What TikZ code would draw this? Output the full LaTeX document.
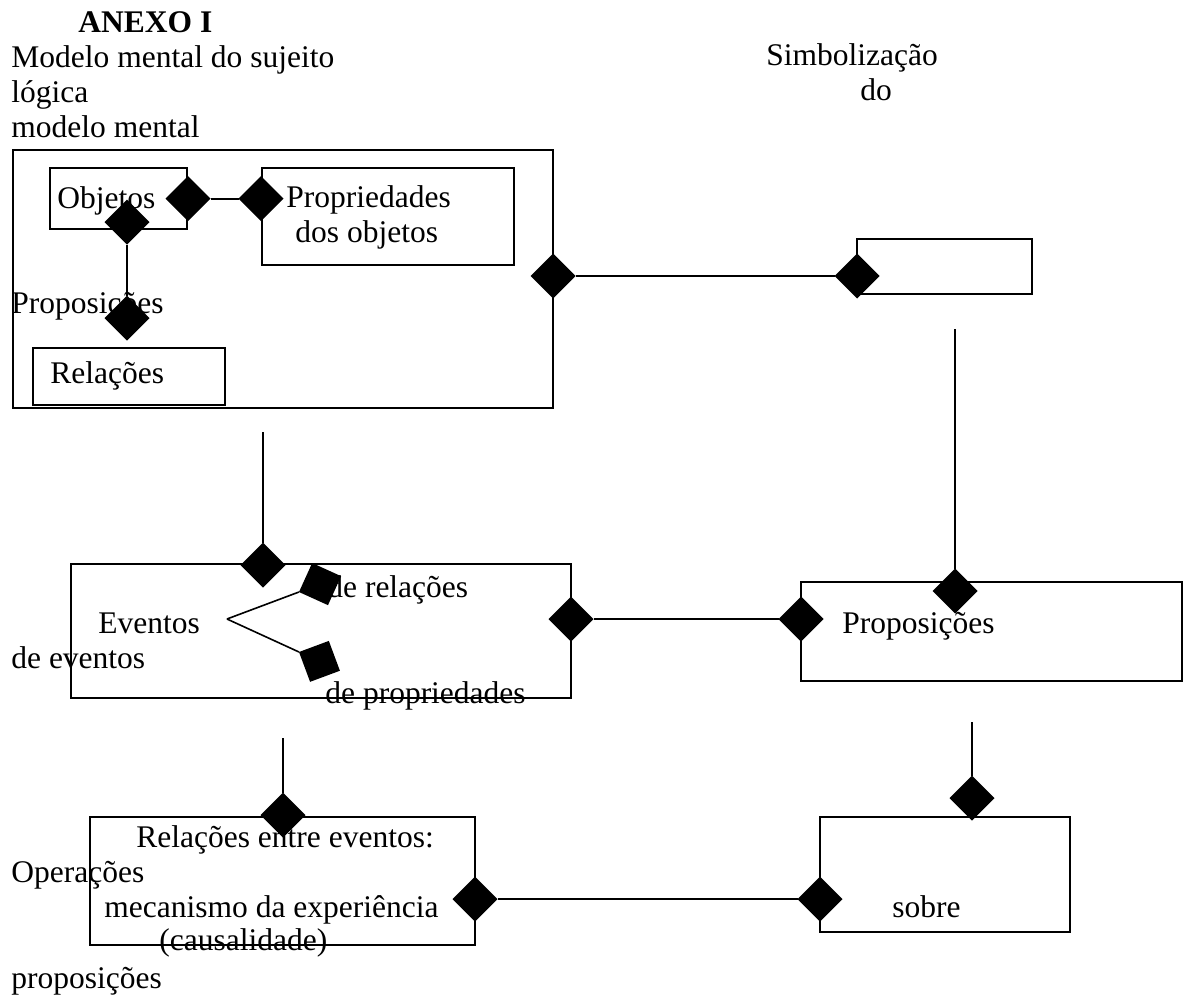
\documentclass[tikz,border=0pt]{standalone}
\usepackage{fontspec}
\setmainfont{Liberation Serif}
\usetikzlibrary{shapes.geometric, fit, calc}

\begin{document}
\begin{tikzpicture}[
    x=0.5pt, y=-0.5pt,
    box/.style={draw, line width=1pt, inner sep=0pt},
    dia/.style={diamond, fill=black, inner sep=0pt, outer sep=0pt,
                minimum width=22.5pt, minimum height=22.5pt},
    lbl/.style={anchor=base west, inner sep=0pt, font=\fontsize{15.75}{17.5}\selectfont},
    conn/.style={line width=1pt},
    thinconn/.style={line width=0.8pt},
  ]
  \useasboundingbox (0,0) rectangle (1184,996);
  \node[box, fit={(13,150) (553,408)}] (modelo) {};
  \node[box, fit={(50,168) (187,229)}] (objetos) {};
  \node[box, fit={(262,168) (514,265)}] (props) {};
  \node[box, fit={(33,348) (225,405)}] (relacoes) {};
  \node[box, fit={(857,239) (1032,294)}] (simb) {};
  \node[box, fit={(71,564) (571,698)}] (eventos) {};
  \node[box, fit={(801,582) (1182,681)}] (proposicoes) {};
  \node[box, fit={(90,817) (475,945)}] (entre) {};
  \node[box, fit={(820,817) (1070,932)}] (sobre) {};

  \node[lbl, font=\fontsize{15.75}{17.5}\selectfont\bfseries] (anexo) at (78,32) {ANEXO I};
  \node[lbl] (l1) at (11,67) {Modelo mental do sujeito};
  \node[lbl] (l2) at (11,102) {lógica};
  \node[lbl] (l3) at (11,137) {modelo mental};
  \node[lbl] (s1) at (766,65) {Simbolização};
  \node[lbl] (s2) at (860,100) {do};
  \node[lbl] (tobj) at (57,208) {Objetos};
  \node[lbl] (tprop1) at (286,207) {Propriedades};
  \node[lbl] (tprop2) at (295,242) {dos objetos};
  \node[lbl] (tpropos) at (11,313) {Proposições};
  \node[lbl] (trel) at (50,383) {Relações};
  \node[lbl] (tderel) at (327,597) {de relações};
  \node[lbl] (tev) at (98,633) {Eventos};
  \node[lbl] (tdeev) at (11,668) {de eventos};
  \node[lbl] (tdeprop) at (325,703) {de propriedades};
  \node[lbl] (tpropos2) at (842,633) {Proposições};
  \node[lbl] (tentre) at (136,847) {Relações entre eventos:};
  \node[lbl] (toper) at (11,882) {Operações};
  \node[lbl] (tmec) at (104,917) {mecanismo da experiência};
  \node[lbl] (tcaus) at (159,950) {(causalidade)};
  \node[lbl] (tpropos3) at (11,988) {proposições};
  \node[lbl] (tsobre) at (892,917) {sobre};

  \node[dia] (dobjR) at (objetos.east) {};
  \node[dia] (dpropL) at (props.west |- objetos.east) {};
  \node[dia] (dobjB) at (127,222) {};
  \node[dia] (drelT) at (127,318) {};
  \node[dia] (dmodR) at (553,276) {};
  \node[dia] (dsimbL) at (857,276) {};
  \node[dia] (devT) at (263,565) {};
  \node[dia] (devR) at (571,619) {};
  \node[dia, rotate=20.6, anchor=west] (dderel) at (299,592) {};
  \node[dia, rotate=-24.6, anchor=west] (ddeprop) at (299,652) {};
  \node[dia] (dproL) at (801,619) {};
  \node[dia] (dproT) at (955,591) {};
  \node[dia] (dentT) at (283,815) {};
  \node[dia] (dentR) at (475,899) {};
  \node[dia] (dsobL) at (820,899) {};
  \node[dia] (dsobT) at (972,798) {};

  \coordinate (fork) at (227,619);
  \coordinate (topev) at (263,432);
  \coordinate (toppro) at (955,329);
  \coordinate (topent) at (283,738);
  \coordinate (topsob) at (972,722);

  \draw[conn] (dobjR) -- (dpropL);
  \draw[conn] (dobjB) -- (drelT);
  \draw[conn] (dmodR) -- (dsimbL);
  \draw[thinconn] (topev) -- (devT);
  \draw[thinconn] (toppro) -- (dproT);
  \draw[thinconn] (fork) -- (dderel.west);
  \draw[thinconn] (fork) -- (ddeprop.west);
  \draw[conn] (devR) -- (dproL);
  \draw[thinconn] (topent) -- (dentT);
  \draw[conn] (dentR) -- (dsobL);
  \draw[thinconn] (topsob) -- (dsobT);
\end{tikzpicture}
\end{document}
